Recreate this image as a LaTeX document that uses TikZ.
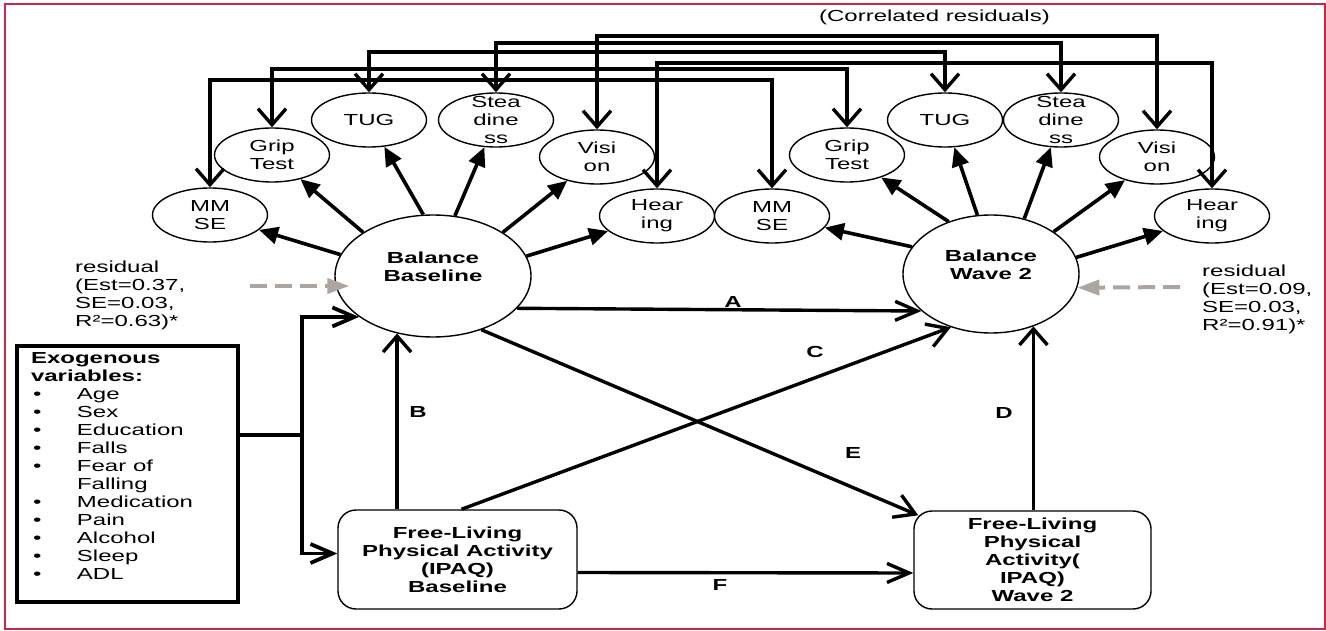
\documentclass[tikz,border=0pt]{standalone}
\usepackage{fontspec}
\setmainfont{Liberation Sans}[FakeStretch=1.5]
\usetikzlibrary{arrows.meta,shapes.geometric,calc}
\definecolor{bordercol}{RGB}{200,40,70}
\definecolor{resgray}{RGB}{175,165,160}
\newcommand\bul{\makebox[46pt][l]{\hspace{2pt}\textbullet}}
\begin{document}
\begin{tikzpicture}[x=1pt,y=-1pt,
  every node/.style={font=\fontsize{16}{18}\selectfont},
  ind/.style={ellipse, draw, line width=1.4pt, minimum width=115pt, minimum height=54pt, inner sep=0pt},
  itext/.style={align=center, inner sep=0pt},
  latent/.style={ellipse, draw, line width=1.4pt, inner sep=0pt},
  lt/.style={align=center, inner sep=0pt, font=\fontsize{16}{18}\selectfont\bfseries, yshift=9pt},
  fbox/.style={draw, line width=1.4pt, rounded corners=18pt, inner sep=0pt, align=center, font=\fontsize{16}{18}\selectfont\bfseries},
  lab/.style={inner sep=0pt, font=\fontsize{16}{18}\selectfont\bfseries},
  load/.style={line width=3.6pt, -{Triangle[length=19pt,width=17pt]}},
  corr/.style={line width=3.4pt, {Straight Barb[length=16pt,width=28pt]}-{Straight Barb[length=16pt,width=28pt]}},
  harr/.style={line width=3.4pt, -{Straight Barb[length=22pt,width=19pt]}},
  varr/.style={line width=3.4pt, -{Straight Barb[length=16pt,width=28pt]}},
  darr/.style={line width=3.4pt, -{Straight Barb[length=20pt,width=24pt]}},
  resarr/.style={resgray, line width=4pt, dash pattern=on 17pt off 8pt, -{Triangle[length=22pt,width=15pt]}},
  exobox/.style={draw, line width=3.8pt, inner sep=0pt}
]
\useasboundingbox (0,0) rectangle (1326,631);
\draw[bordercol, line width=1.5pt] (5,4) rectangle (1325,629);

% indicators left
\node[ind, label={[itext]center:{MM\\SE}}] (mmseL) at (210,215) {};
\node[ind, label={[itext]center:{Grip\\Test}}] (gripL) at (272,155) {};
\node[ind, label={[itext]center:{TUG}}] (tugL) at (369,120) {};
\node[ind, label={[itext]center:{Stea\\dine\\ss}}] (steadL) at (496,120) {};
\node[ind, label={[itext]center:{Visi\\on}}] (visL) at (597,157) {};
\node[ind, label={[itext]center:{Hear\\ing}}] (hearL) at (657,216) {};
% indicators right
\node[ind, label={[itext]center:{MM\\SE}}] (mmseR) at (772,216) {};
\node[ind, label={[itext]center:{Grip\\Test}}] (gripR) at (847,155) {};
\node[ind, label={[itext]center:{TUG}}] (tugR) at (945,120) {};
\node[ind, label={[itext]center:{Stea\\dine\\ss}}] (steadR) at (1061,120) {};
\node[ind, label={[itext]center:{Visi\\on}}] (visR) at (1157,157) {};
\node[ind, label={[itext]center:{Hear\\ing}}] (hearR) at (1212,216) {};

% latent
\node[latent, minimum width=196pt, minimum height=122pt, label={[lt]center:{Balance\\Baseline}}] (bb) at (433,276) {};
\node[latent, minimum width=176pt, minimum height=118pt, label={[lt]center:{Balance\\Wave 2}}] (bw) at (991,274) {};

% boxes
\node[fbox, minimum width=239pt, minimum height=99pt] (flb) at (457.5,559.5) {Free-Living\\Physical Activity\\(IPAQ)\\Baseline};
\node[fbox, minimum width=237pt, minimum height=98pt] (flw) at (1032.5,560) {Free-Living\\Physical\\Activity(\\IPAQ)\\Wave 2};
\node[exobox] (exo) at (127.5,474) {\parbox[c][256pt][t]{221pt}{\leftskip=14pt\rule{0pt}{17pt}\textbf{Exogenous}\\
\textbf{variables:}\\
\bul Age\\
\bul Sex\\
\bul Education\\
\bul Falls\\
\bul Fear of\\
\hspace*{46pt}Falling\\
\bul Medication\\
\bul Pain\\
\bul Alcohol\\
\bul Sleep\\
\bul ADL}};

% texts
\node (corrt) at (934.5,17) {(Correlated residuals)};
\node[anchor=west, align=left, inner sep=0pt] (resLt) at (75,295.5) {residual\\(Est=0.37,\\SE=0.03,\\R²=0.63)*};
\node[anchor=west, align=left, inner sep=0pt] (resRt) at (1202,299) {residual\\(Est=0.09,\\SE=0.03,\\R²=0.91)*};

% correlated residuals
\draw[corr] (visL.north) -- (visL.north |- 0,36) -| (visR.north);
\draw[corr] (steadL.north) -- (steadL.north |- 0,43) -| (steadR.north);
\draw[corr] (tugL.north) -- (tugL.north |- 0,52) -| (tugR.north);
\draw[corr] (hearL.north) -- (hearL.north |- 0,63) -| (hearR.north);
\draw[corr] (gripL.north) -- (gripL.north |- 0,69) -| (gripR.north);
\draw[corr] (mmseL.north) -- (mmseL.north |- 0,80) -| (mmseR.north);

% loadings
\draw[load] (bb.167) -- (mmseL);
\draw[load] (bb.148) -- (gripL);
\draw[load] (bb.99) -- (tugL);
\draw[load] (bb.70) -- (steadL);
\draw[load] (bb.32) -- (visL);
\draw[load] (bb.12) -- (hearL);
\draw[load] (bw.161) -- (mmseR);
\draw[load] (bw.129) -- (gripR);
\draw[load] (bw.103) -- (tugR);
\draw[load] (bw.59) -- (steadR);
\draw[load] (bw.34) -- (visR);
\draw[load] (bw.11) -- (hearR);

% residual arrows
\coordinate (resL) at (250,286);
\coordinate (resR) at (1180,287);
\draw[resarr] (resL) -- ([shift={(15pt,-10pt)}]bb.west);
\draw[resarr] (resR) -- (bw.-9);

% structural paths
\draw[harr] (bb.-21) -- (bw.208);
\draw[darr] ([xshift=4pt]flb.north) -- (bw.233);
\draw[darr] (bb.-48) -- ([shift={(5pt,-5pt)}]flw.north west);
\draw[harr] ([yshift=-13pt]flb.east) -- ([yshift=-13pt]flw.west);
\draw[varr] (bb.238 |- flb.north) -- (bb.238);
\draw[varr] (bw.309 |- flw.north) -- (bw.309);

% exogenous
\coordinate (j) at (302,435);
\draw[line width=3.8pt] ([yshift=39pt]exo.east) -- (j);
\draw[harr, line width=3.8pt] (j) |- (bb.209);
\draw[harr, line width=3.8pt] (j) |- ([yshift=6pt]flb.west);

% labels
\node[lab] (lA) at (733,302) {A};
\node[lab] (lB) at (418,412) {B};
\node[lab] (lC) at (815,352) {C};
\node[lab] (lD) at (1004,413) {D};
\node[lab] (lE) at (853,453) {E};
\node[lab] (lF) at (720,585) {F};
\end{tikzpicture}
\end{document}
